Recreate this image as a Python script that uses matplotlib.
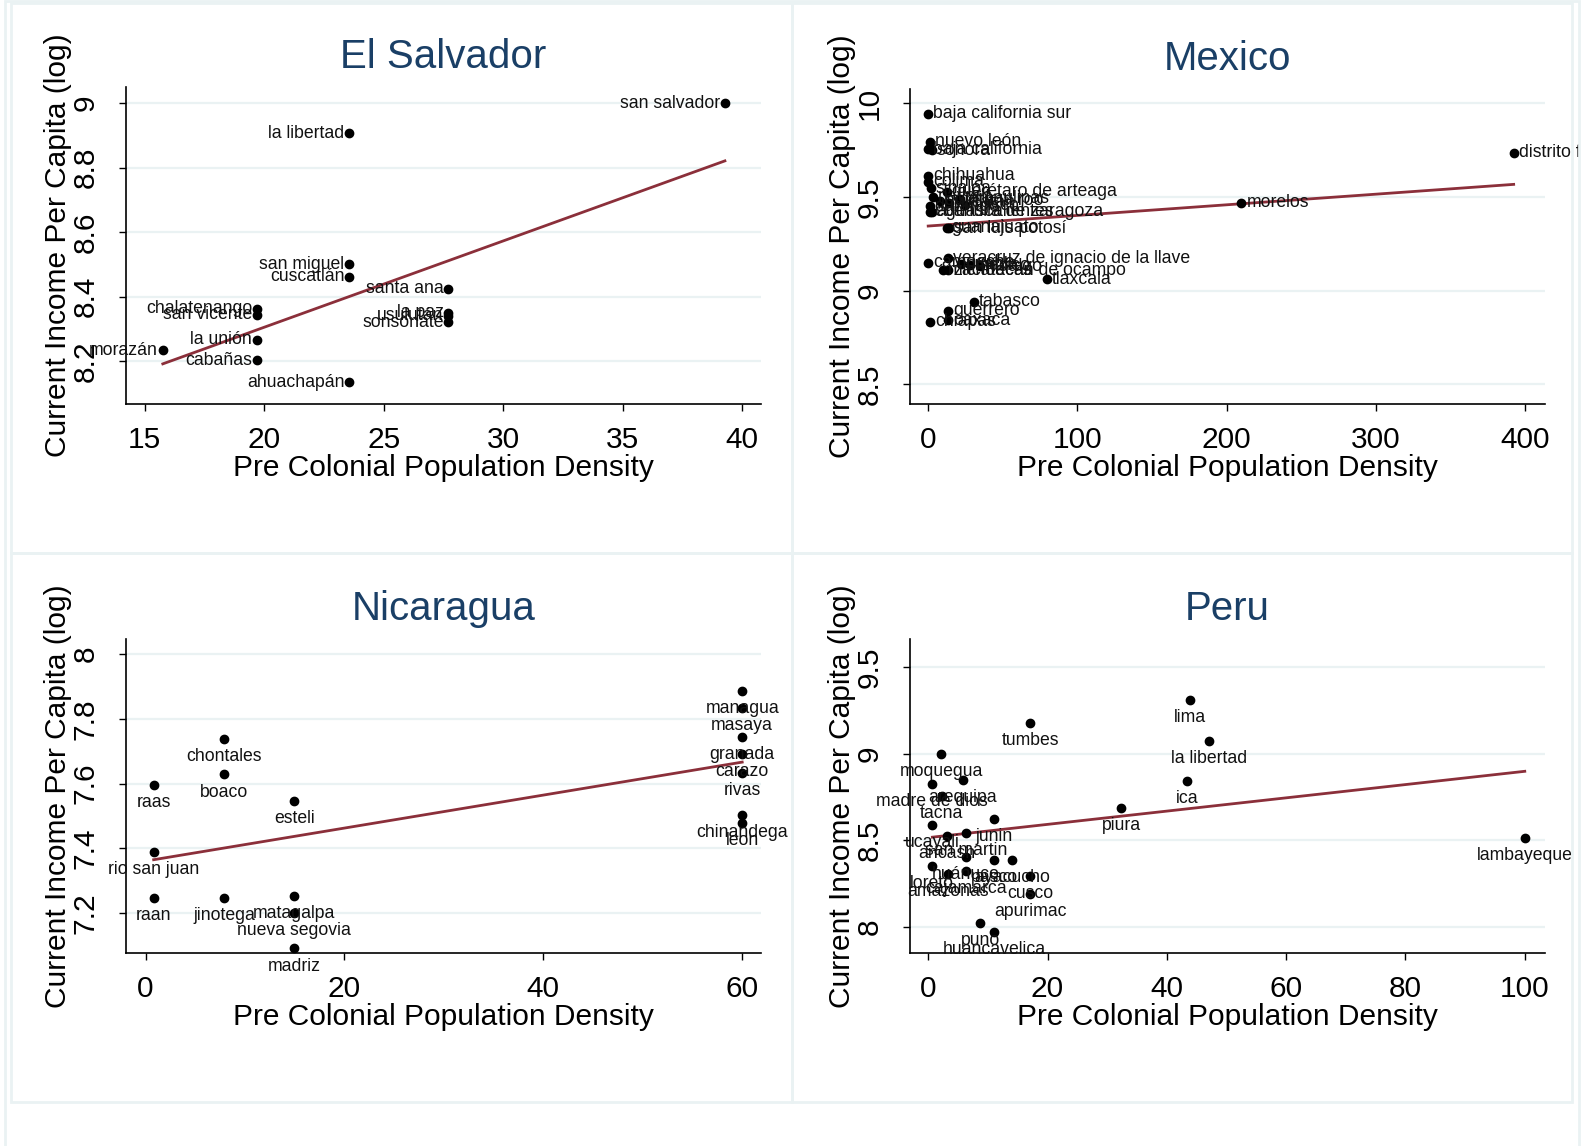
import numpy as np
import matplotlib
matplotlib.use("Agg")
import matplotlib.pyplot as plt
from matplotlib.patches import Rectangle
from matplotlib.transforms import Bbox, TransformedBbox
from matplotlib.ticker import FormatStrFormatter

plt.rcParams['font.family'] = ['Liberation Sans', 'DejaVu Sans']

# El Salvador
es_names = ["san salvador", "la libertad", "san miguel", "cuscatlán", "santa ana",
            "la paz", "usulután", "sonsonate", "chalatenango", "san vicente",
            "la unión", "morazán", "cabañas", "ahuachapán"]
es_density = [39.28, 23.56, 23.56, 23.56, 27.71, 27.71, 27.71, 27.71,
              19.70, 19.70, 19.70, 15.76, 19.70, 23.56]
es_income = [9.00, 8.906, 8.50, 8.462, 8.425, 8.35, 8.34, 8.32,
             8.362, 8.344, 8.266, 8.234, 8.203, 8.134]

# Mexico
mx_names = ["baja california sur", "nuevo león", "baja california", "sonora",
            "chihuahua", "colima", "querétaro de arteaga", "sinaloa", "tamaulipas",
            "nayarit", "yucatán", "quintana roo", "jalisco", "durango",
            "aguascalientes", "coahuila de zaragoza", "guanajuato", "san luis potosí",
            "campeche", "veracruz de ignacio de la llave", "zacatecas", "puebla",
            "méxico", "hidalgo", "michoacán de ocampo", "tlaxcala", "tabasco",
            "guerrero", "oaxaca", "chiapas", "morelos", "distrito federal"]
mx_density = [0, 1.2, 0, 2.3, 0, 0, 12.4, 1.6, 21, 3, 14, 8, 25, 1,
              2.3, 1.5, 12.4, 14, 0, 13.5, 13.5, 22, 28, 35, 10, 79.5, 30.8,
              13.5, 13.5, 1.2, 210, 392.5]
mx_income = [9.943, 9.795, 9.754, 9.75, 9.612, 9.58, 9.528, 9.546, 9.49,
             9.50, 9.47, 9.48, 9.455, 9.45, 9.42, 9.42, 9.335, 9.333,
             9.149, 9.173, 9.11, 9.14, 9.135, 9.13, 9.11, 9.06, 8.941,
             8.893, 8.843, 8.835, 9.47, 9.737]

# Nicaragua
ni_names = ["managua", "masaya", "granada", "carazo", "rivas", "chinandega", "leon",
            "chontales", "boaco", "raas", "esteli", "rio san juan", "raan",
            "jinotega", "matagalpa", "nueva segovia", "madriz"]
ni_density = [60, 60, 60, 60, 60, 60, 60, 7.93, 7.93, 0.81, 14.95, 0.81, 0.81,
              7.93, 14.95, 14.95, 14.95]
ni_income = [7.8875, 7.834, 7.744, 7.691, 7.634, 7.503, 7.478, 7.7375, 7.628,
             7.597, 7.547, 7.388, 7.247, 7.247, 7.253, 7.20, 7.09]

# Peru
pe_names = ["lima", "la libertad", "ica", "piura", "lambayeque", "tumbes", "moquegua",
            "madre de dios", "arequipa", "tacna", "junin", "ucayali", "ancash",
            "san martin", "huánuco", "pasco", "ayacucho", "loreto", "amazonas",
            "cajamarca", "cusco", "apurimac", "puno", "huancavelica"]
pe_density = [43.9, 47.1, 43.4, 32.4, 100, 17.1, 2.2, 0.7, 5.8, 2.25, 11.1, 0.7,
              3.1, 6.3, 6.3, 11.1, 14.1, 0.7, 3.4, 6.3, 17.1, 17.1, 8.7, 11.1]
pe_income = [9.313, 9.076, 8.842, 8.688, 8.515, 9.178, 8.999, 8.827, 8.85, 8.754,
             8.625, 8.586, 8.523, 8.542, 8.403, 8.385, 8.385, 8.349, 8.303, 8.323,
             8.292, 8.192, 8.023, 7.971]

W, H = 1585, 1146
GRID = '#eaf2f3'
TITLE = '#1a3f66'
FIT = '#8b2f3a'

fig = plt.figure(figsize=(W / 100, H / 100), dpi=100)
fig.patch.set_facecolor('white')

# panel frames
def frame(x0, y0, x1, y1, lw=2):
    fig.add_artist(Rectangle((x0 / W, 1 - y1 / H), (x1 - x0) / W, (y1 - y0) / H,
                             transform=fig.transFigure, fill=False,
                             edgecolor=GRID, lw=lw))

frame(5, 1, 1579, 1150)
frame(11, 3, 792, 553)
frame(792, 3, 1572, 553)
frame(11, 553, 792, 1102)
frame(792, 553, 1572, 1102)


def panel(box, title, names, xs, ys, xlim, ylim, xticks, yticks, labpos, pbox):
    l, t, r, b = box
    ax = fig.add_axes([l / W, 1 - b / H, (r - l) / W, (b - t) / H])
    ax.set_xlim(*xlim)
    ax.set_ylim(*ylim)
    for s in ['top', 'right']:
        ax.spines[s].set_visible(False)
    for s in ['left', 'bottom']:
        ax.spines[s].set_linewidth(1.2)
    ax.set_xticks(xticks)
    ax.set_yticks(yticks)
    ax.yaxis.set_major_formatter(FormatStrFormatter('%g'))
    ax.tick_params(axis='both', length=5, width=1, labelsize=21.5)
    ax.tick_params(axis='x', pad=11)
    ax.tick_params(axis='y', pad=14)
    for lab in ax.get_yticklabels():
        lab.set_rotation(90)
        lab.set_va('center')
    ax.grid(axis='y', color=GRID, lw=1.6)
    ax.set_axisbelow(True)

    # linear fit
    coef = np.polyfit(xs, ys, 1)
    fx = np.array([min(xs), max(xs)])
    ax.plot(fx, np.polyval(coef, fx), color=FIT, lw=2, zorder=2)
    ax.scatter(xs, ys, s=36, color='black', zorder=3)

    clip = TransformedBbox(Bbox([[pbox[0] / W, 1 - pbox[3] / H],
                                 [pbox[2] / W, 1 - pbox[1] / H]]), fig.transFigure)
    for n, x, y in zip(names, xs, ys):
        if labpos == 9:
            t_ = ax.annotate(n, (x, y), xytext=(-3.5, 0), textcoords='offset points',
                             ha='right', va='center', fontsize=12.7, color='#111111')
        elif labpos == 3:
            t_ = ax.annotate(n, (x, y), xytext=(3.5, 0), textcoords='offset points',
                             ha='left', va='center', fontsize=12.7, color='#111111')
        else:
            t_ = ax.annotate(n, (x, y), xytext=(0, -6.5), textcoords='offset points',
                             ha='center', va='top', fontsize=12.7, color='#111111')
        t_.set_clip_box(clip)
        t_.set_clip_on(True)

    ax.set_xlabel('Pre Colonial Population Density', fontsize=21.5, va='center')
    ax.xaxis.set_label_coords(0.5, -64 / (b - t))
    ax.set_ylabel('Current Income Per Capita (log)', fontsize=21.5, va='center')
    ax.yaxis.set_label_coords(-68 / (r - l), 0.5)
    fig.text(((l + r) / 2) / W, 1 - (t - 30) / H, title, ha='center', va='center',
             fontsize=29, color=TITLE)
    return ax


panel((126, 87, 761, 404), 'El Salvador', es_names, es_density, es_income,
      (14.22, 40.79), (8.067, 9.05), [15, 20, 25, 30, 35, 40],
      [8.2, 8.4, 8.6, 8.8, 9], 9, (11, 3, 792, 553))
panel((910, 89, 1545, 404), 'Mexico', mx_names, mx_density, mx_income,
      (-12.2, 413.5), (8.395, 10.076), [0, 100, 200, 300, 400],
      [8.5, 9, 9.5, 10], 3, (792, 3, 1580, 553))
panel((126, 639, 761, 953), 'Nicaragua', ni_names, ni_density, ni_income,
      (-1.97, 61.89), (7.076, 8.047), [0, 20, 40, 60],
      [7.2, 7.4, 7.6, 7.8, 8], 6, (11, 553, 792, 1102))
panel((910, 639, 1545, 953), 'Peru', pe_names, pe_density, pe_income,
      (-3.05, 103.39), (7.848, 9.664), [0, 20, 40, 60, 80, 100],
      [8, 8.5, 9, 9.5], 6, (792, 553, 1580, 1102))

fig.savefig('out.png', dpi=100)
